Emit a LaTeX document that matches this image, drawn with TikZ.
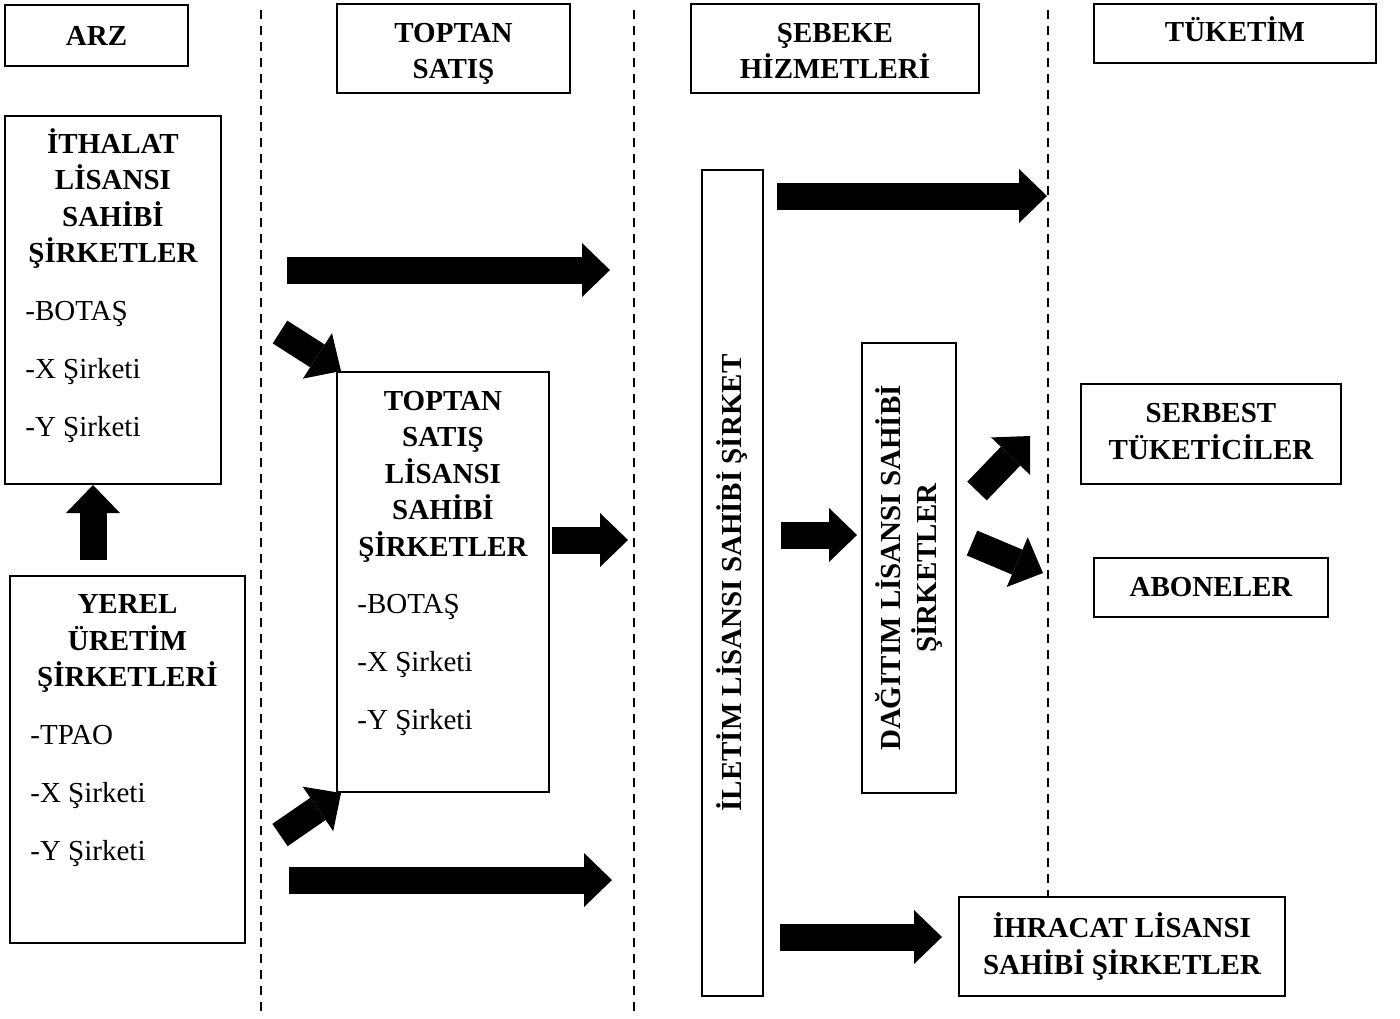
\documentclass[tikz,border=0pt]{standalone}
\usepackage{fontspec}
\setmainfont{Liberation Serif}
\usetikzlibrary{arrows.meta, positioning, calc}
\tikzstyle{box} = [draw=black, line width=1pt, inner sep=0pt, align=center, font=\fontsize{14.5}{18.25}\selectfont\bfseries]
\tikzstyle{title} = [inner sep=0pt, align=center, font=\fontsize{14.5}{18.25}\selectfont\bfseries]
\tikzstyle{list} = [inner sep=0pt, align=left, anchor=west, font=\fontsize{14.5}{29}\selectfont]
\tikzstyle{bigarrow} = [line width=13.5pt, -{Triangle[length=14pt, width=27pt, line width=0pt]}]
\tikzstyle{divider} = [line width=1.4pt, dash pattern=on 4.5pt off 3.5pt]

\begin{document}
\begin{tikzpicture}[x=0.5pt,y=-0.5pt]
    \useasboundingbox (0,0) rectangle (1400,1018);

    \node[box, minimum width=91.5pt, minimum height=30.5pt] (arz) at (96.5,35.5) {ARZ};
    \node[box, minimum width=116.5pt, minimum height=44.5pt] (toptan-h) at (453.5,48.5) {};
    \node[title] (toptan-ht) at (453.5,54) {TOPTAN\\SATIŞ};
    \node[box, minimum width=144pt, minimum height=44.5pt] (sebeke-h) at (835,48.5) {};
    \node[title] (sebeke-ht) at (835,51) {ŞEBEKE\\HİZMETLERİ};
    \node[box, minimum width=141pt, minimum height=29.5pt] (tuketim-h) at (1235,33.5) {};
    \node[title] (tuketim-ht) at (1235,29.5) {TÜKETİM};

    \node[box, minimum width=108pt, minimum height=184pt] (ithalat) at (113,300) {};
    \node[title] (ithalat-t) at (113,198.5) {İTHALAT\\LİSANSI\\SAHİBİ\\ŞİRKETLER};
    \node[list] (ithalat-l) at (25,372) {-BOTAŞ\\-X Şirketi\\-Y Şirketi};

    \node[box, minimum width=117.5pt, minimum height=183.5pt] (yerel) at (127.5,759.5) {};
    \node[title] (yerel-t) at (127.5,643.5) {YEREL\\ÜRETİM\\ŞİRKETLERİ};
    \node[list] (yerel-l) at (30,795.5) {-TPAO\\-X Şirketi\\-Y Şirketi};

    \node[box, minimum width=106pt, minimum height=210pt] (toptan) at (443,582) {};
    \node[title] (toptan-t) at (443,476.5) {TOPTAN\\SATIŞ\\LİSANSI\\SAHİBİ\\ŞİRKETLER};
    \node[list] (toptan-l) at (357,665) {-BOTAŞ\\-X Şirketi\\-Y Şirketi};

    \node[box, rotate=90, minimum width=413pt, minimum height=30.5pt] (iletim) at (732.5,583) {İLETİM LİSANSI SAHİBİ ŞİRKET};
    \node[box, rotate=90, minimum width=225pt, minimum height=47pt] (dagitim) at (909,568) {DAĞITIM LİSANSI SAHİBİ\\ŞİRKETLER};

    \node[box, minimum width=130pt, minimum height=50pt] (serbest) at (1211,434) {};
    \node[title] (serbest-t) at (1211,431.5) {SERBEST\\TÜKETİCİLER};
    \node[box, minimum width=117pt, minimum height=29.5pt] (abone) at (1211,587.5) {ABONELER};
    \node[box, minimum width=163pt, minimum height=49.5pt] (ihracat) at (1122,946.5) {İHRACAT LİSANSI\\SAHİBİ ŞİRKETLER};

    \coordinate (div1-a) at (261,10);
    \coordinate (div1-b) at (261,1018);
    \coordinate (div2-a) at (634,10);
    \coordinate (div2-b) at (634,1018);
    \coordinate (div3-a) at (1048,10);
    \draw[divider] (div1-a) -- (div1-b);
    \draw[divider] (div2-a) -- (div2-b);
    \draw[divider] (div3-a) -- (div3-a |- ihracat.north);

    \coordinate (up-s) at (93,560);
    \coordinate (top-s) at (287,270);
    \coordinate (top-e) at (610,270);
    \coordinate (diag1-s) at (280,332);
    \coordinate (diag2-s) at (280,835);
    \coordinate (low-s) at (289,880);
    \coordinate (low-e) at (612,880);
    \coordinate (mid-s) at (552,540);
    \coordinate (mid-e) at (628,540);
    \coordinate (net-s) at (777,196);
    \coordinate (net-e) at (1047,196);
    \coordinate (dag-s) at (781,535);
    \coordinate (dag-e) at (857,535);
    \coordinate (srb-s) at (977,491);
    \coordinate (srb-e) at (1030,436);
    \coordinate (abn-s) at (972,543);
    \coordinate (abn-e) at (1043,573);
    \coordinate (ihr-s) at (780,937);

    \draw[bigarrow] (up-s) -- (up-s |- ithalat.south);
    \draw[bigarrow] (top-s) -- (top-e);
    \draw[bigarrow] (diag1-s) -- ([xshift=2.5pt]toptan.north west);
    \draw[bigarrow] (diag2-s) -- ([xshift=2.5pt]toptan.south west);
    \draw[bigarrow] (low-s) -- (low-e);
    \draw[bigarrow] (mid-s) -- (mid-e);
    \draw[bigarrow] (net-s) -- (net-e);
    \draw[bigarrow] (dag-s) -- (dag-e);
    \draw[bigarrow] (srb-s) -- (srb-e);
    \draw[bigarrow] (abn-s) -- (abn-e);
    \draw[bigarrow] (ihr-s) -- ([xshift=-8pt]ihracat.west |- ihr-s);
\end{tikzpicture}
\end{document}
